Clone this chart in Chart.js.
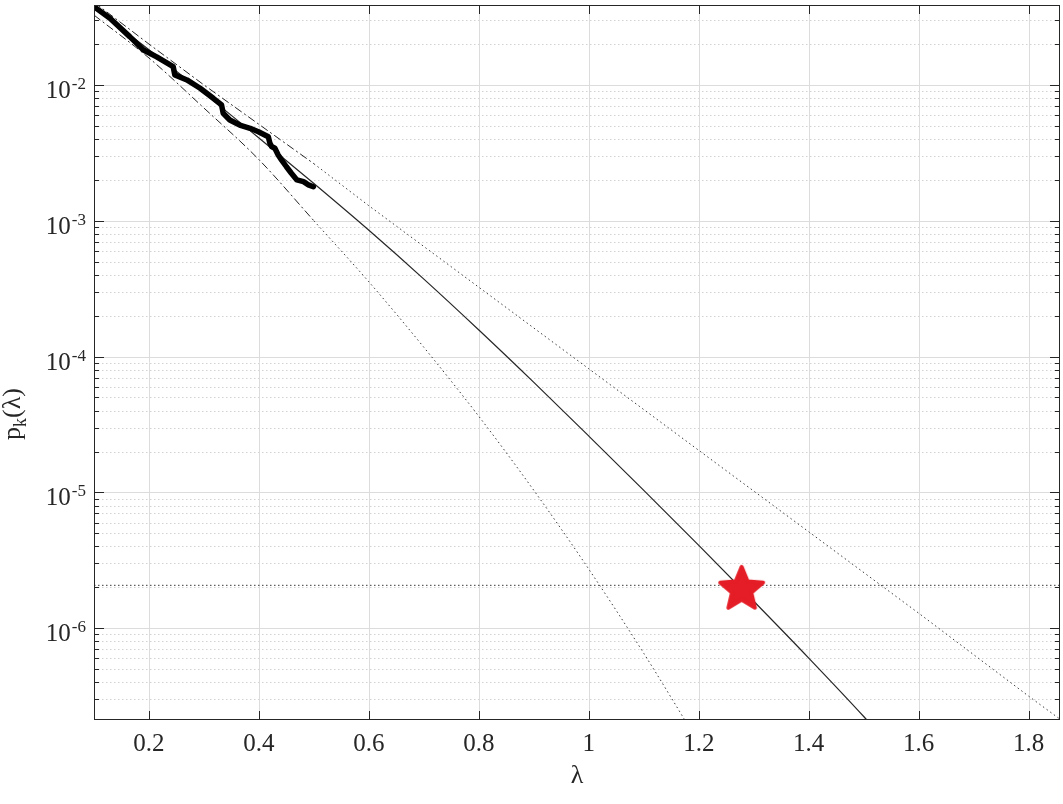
<!DOCTYPE html>
<html>
<head>
<meta charset="utf-8">
<style>
  html, body { margin: 0; padding: 0; background: #fff; }
  #wrap { width: 1063px; height: 804px; }
</style>
<script src="https://cdn.jsdelivr.net/npm/chart.js@4.4.0/dist/chart.umd.js"></script>
</head>
<body>
<div id="wrap"><canvas id="pk-chart" width="1063" height="804"></canvas></div>
<script>
// Tail probability p_k(lambda) on a log axis, MATLAB-style figure

// Axis ranges and ticks
const xMin = 0.1;
const xMax = 1.857;
const yMin = 2.11e-7;
const yMax = 0.0388;
const xTickValues = [0.2, 0.4, 0.6, 0.8, 1.0, 1.2, 1.4, 1.6, 1.8];
const xTickLabels = ['0.2', '0.4', '0.6', '0.8', '1', '1.2', '1.4', '1.6', '1.8'];
const yTickValues = [1e-6, 1e-5, 1e-4, 1e-3, 1e-2];
const yTickExponents = ['-6', '-5', '-4', '-3', '-2'];

// Empirical curve (thick black)
const empiricalX = [0.100, 0.129, 0.165, 0.184, 0.190, 0.214, 0.244, 0.247, 0.269, 0.293,
                    0.317, 0.332, 0.335, 0.347, 0.365, 0.384, 0.399, 0.417, 0.420, 0.423,
                    0.429, 0.435, 0.441, 0.450, 0.459, 0.469, 0.481, 0.490, 0.499];
const empiricalP = [0.0377, 0.0310, 0.0227, 0.0191, 0.0181, 0.0161, 0.01365, 0.01186, 0.01089, 0.00946,
                    0.00798, 0.00713, 0.00619, 0.00552, 0.00507, 0.00480, 0.00453, 0.00416, 0.00372, 0.00352,
                    0.00342, 0.00305, 0.00281, 0.00250, 0.00224, 0.00200, 0.00194, 0.00184, 0.00178];

// Fitted tail (thin solid)
const fitX = [0.1, 0.2, 0.3, 0.4, 0.5, 0.6, 0.7, 0.8, 0.9, 1.0, 1.1, 1.2, 1.3, 1.4, 1.5, 1.52];
const fitP = [0.0372, 0.0182, 0.00871, 0.00407, 0.00188, 8.51e-4, 3.72e-4, 1.57e-4, 6.46e-5,
              2.60e-5, 1.035e-5, 4.07e-6, 1.58e-6, 6.03e-7, 2.24e-7, 1.82e-7];

// Upper bound: dash-dot over the data, dotted beyond
const upperDashX = [0.1, 0.2, 0.3, 0.4, 0.5];
const upperDashP = [0.0407, 0.0200, 0.0100, 0.00513, 0.00263];
const upperDotX = [0.5, 0.6, 0.8, 1.0, 1.2, 1.4, 1.6, 1.8, 1.857];
const upperDotP = [0.00263, 0.00129, 3.24e-4, 8.13e-5, 2.04e-5, 5.13e-6, 1.29e-6, 3.16e-7, 2.14e-7];

// Lower bound: dash-dot over the data, dotted beyond
const lowerDashX = [0.1, 0.2, 0.3, 0.4, 0.5];
const lowerDashP = [0.0327, 0.0158, 0.00676, 0.00282, 0.00100];
const lowerDotX = [0.5, 0.6, 0.7, 0.8, 0.9, 1.0, 1.1, 1.2];
const lowerDotP = [0.00100, 3.55e-4, 1.17e-4, 3.63e-5, 1.035e-5, 2.72e-6, 6.53e-7, 1.43e-7];

// Target level and the marked point
const thresholdX = [0.1, 1.857];
const thresholdP = [2.07e-6, 2.07e-6];
const starX = [1.278];
const starP = [2.0e-6];

const FONT = '"Liberation Serif", "Times New Roman", serif';
const AXIS_COLOR = '#262626';

function pts(xs, ys) {
    return xs.map((x, i) => ({ x: x, y: ys[i] }));
}

// Filled red star used as the point marker
function makeStar(r, color) {
    const size = Math.ceil(2 * r + 10);
    const c = document.createElement('canvas');
    c.width = size;
    c.height = size;
    const g = c.getContext('2d');
    g.translate(size / 2, size / 2 + r * 0.095);
    g.beginPath();
    for (let i = 0; i < 10; i++) {
        const a = -Math.PI / 2 + i * Math.PI / 5;
        const rad = i % 2 ? r * 0.45 : r;
        g.lineTo(Math.cos(a) * rad, Math.sin(a) * rad);
    }
    g.closePath();
    g.fillStyle = color;
    g.strokeStyle = color;
    g.lineWidth = 4;
    g.lineJoin = 'round';
    g.fill();
    g.stroke();
    return c;
}

function noPadding(scale) {
    scale.paddingLeft = 0;
    scale.paddingRight = 0;
    scale.paddingTop = 0;
    scale.paddingBottom = 0;
}

// Grid, box, inward ticks and TeX-like labels
const matlabAxes = {
    id: 'matlabAxes',
    beforeDatasetsDraw(chart) {
        const { ctx, chartArea: a, scales: { x, y } } = chart;
        ctx.save();
        ctx.lineWidth = 1;
        // minor y grid
        ctx.strokeStyle = '#d2d2d2';
        ctx.setLineDash([1.5, 2.5]);
        yTickValues.concat([1e-7, 1e-1]).forEach(dec => {
            for (let m = 2; m <= 9; m++) {
                const v = dec * m;
                if (v <= yMin || v >= yMax) continue;
                const py = Math.round(y.getPixelForValue(v)) + 0.5;
                ctx.beginPath();
                ctx.moveTo(a.left, py);
                ctx.lineTo(a.right, py);
                ctx.stroke();
            }
        });
        // major grid
        ctx.setLineDash([]);
        ctx.strokeStyle = '#dcdcdc';
        yTickValues.forEach(v => {
            const py = Math.round(y.getPixelForValue(v)) + 0.5;
            ctx.beginPath();
            ctx.moveTo(a.left, py);
            ctx.lineTo(a.right, py);
            ctx.stroke();
        });
        xTickValues.forEach(v => {
            const px = Math.round(x.getPixelForValue(v)) + 0.5;
            ctx.beginPath();
            ctx.moveTo(px, a.top);
            ctx.lineTo(px, a.bottom);
            ctx.stroke();
        });
        ctx.restore();
    },
    afterDatasetsDraw(chart) {
        const { ctx, chartArea: a, scales: { x, y } } = chart;
        ctx.save();
        ctx.strokeStyle = AXIS_COLOR;
        ctx.lineWidth = 1;
        ctx.setLineDash([]);
        ctx.strokeRect(a.left + 0.5, a.top + 0.5, a.right - a.left - 1, a.bottom - a.top - 1);

        ctx.beginPath();
        xTickValues.forEach(v => {
            const px = Math.round(x.getPixelForValue(v)) + 0.5;
            ctx.moveTo(px, a.bottom);
            ctx.lineTo(px, a.bottom - 9);
            ctx.moveTo(px, a.top);
            ctx.lineTo(px, a.top + 9);
        });
        yTickValues.concat([1e-7, 1e-1]).forEach(dec => {
            for (let m = 1; m <= 9; m++) {
                const v = dec * m;
                if (v <= yMin || v >= yMax) continue;
                const len = m === 1 ? 10 : 5;
                const py = Math.round(y.getPixelForValue(v)) + 0.5;
                ctx.moveTo(a.left, py);
                ctx.lineTo(a.left + len, py);
                ctx.moveTo(a.right, py);
                ctx.lineTo(a.right - len, py);
            }
        });
        ctx.stroke();

        // y tick labels 10^n
        ctx.fillStyle = AXIS_COLOR;
        ctx.textBaseline = 'alphabetic';
        yTickValues.forEach((v, i) => {
            const py = y.getPixelForValue(v);
            ctx.font = '17px ' + FONT;
            const supW = ctx.measureText(yTickExponents[i]).width;
            const supLeft = 86 - supW;
            ctx.textAlign = 'left';
            ctx.fillText(yTickExponents[i], supLeft, py + 4);
            ctx.font = '25px ' + FONT;
            ctx.textAlign = 'right';
            ctx.fillText('10', supLeft - 1, py + 13);
        });

        // x title
        ctx.font = '26px ' + FONT;
        ctx.textAlign = 'center';
        ctx.textBaseline = 'middle';
        ctx.fillText('\u03bb', (a.left + a.right) / 2, 776);

        // y title p_k(lambda)
        ctx.translate(20, 414);
        ctx.rotate(-Math.PI / 2);
        ctx.textAlign = 'left';
        ctx.textBaseline = 'alphabetic';
        ctx.font = '26px ' + FONT;
        const wP = ctx.measureText('p').width;
        const wRest = ctx.measureText('(\u03bb)').width;
        ctx.font = '18px ' + FONT;
        const wK = ctx.measureText('k').width;
        let tx = -(wP + wK + wRest) / 2;
        ctx.font = '26px ' + FONT;
        ctx.fillText('p', tx, 0);
        tx += wP;
        ctx.font = '18px ' + FONT;
        ctx.fillText('k', tx, 6);
        tx += wK;
        ctx.font = '26px ' + FONT;
        ctx.fillText('(\u03bb)', tx, 0);
        ctx.restore();
    }
};

const starMarker = makeStar(22.5, '#e41d26');

const ctx = document.getElementById('pk-chart');
new Chart(ctx.getContext('2d'), {
    type: 'line',
    data: {
        datasets: [
            {
                label: 'marked',
                data: pts(starX, starP),
                showLine: false,
                pointStyle: starMarker,
                pointRadius: 24,
                clip: false
            },
            {
                label: 'empirical',
                data: pts(empiricalX, empiricalP),
                borderColor: '#000000',
                borderWidth: 5.5,
                borderJoinStyle: 'round',
                borderCapStyle: 'round',
                pointRadius: 0
            },
            {
                label: 'fit',
                data: pts(fitX, fitP),
                borderColor: AXIS_COLOR,
                borderWidth: 1.2,
                cubicInterpolationMode: 'monotone',
                pointRadius: 0
            },
            {
                label: 'upper',
                data: pts(upperDashX, upperDashP),
                borderColor: AXIS_COLOR,
                borderWidth: 1,
                borderDash: [8, 3, 2, 3],
                pointRadius: 0
            },
            {
                label: 'upper ext',
                data: pts(upperDotX, upperDotP),
                borderColor: '#3a3a3a',
                borderWidth: 1,
                borderDash: [1.5, 3],
                pointRadius: 0
            },
            {
                label: 'lower',
                data: pts(lowerDashX, lowerDashP),
                borderColor: AXIS_COLOR,
                borderWidth: 1,
                borderDash: [8, 3, 2, 3],
                cubicInterpolationMode: 'monotone',
                pointRadius: 0
            },
            {
                label: 'lower ext',
                data: pts(lowerDotX, lowerDotP),
                borderColor: '#3a3a3a',
                borderWidth: 1,
                borderDash: [1.5, 3],
                cubicInterpolationMode: 'monotone',
                pointRadius: 0
            },
            {
                label: 'threshold',
                data: pts(thresholdX, thresholdP),
                borderColor: '#3a3a3a',
                borderWidth: 1,
                borderDash: [1.5, 2.5],
                pointRadius: 0
            }
        ]
    },
    options: {
        responsive: false,
        animation: false,
        layout: {
            autoPadding: false,
            padding: { top: 5, right: 3, left: 0, bottom: 0 }
        },
        plugins: {
            legend: { display: false },
            title: { display: false },
            tooltip: { enabled: false }
        },
        elements: {
            line: { tension: 0 }
        },
        scales: {
            x: {
                type: 'linear',
                min: xMin,
                max: xMax,
                grid: { display: false, drawTicks: false },
                border: { display: false },
                afterBuildTicks: function(scale) {
                    scale.ticks = xTickValues.map(v => ({ value: v }));
                },
                afterFit: function(scale) {
                    scale.height = 84;
                    noPadding(scale);
                },
                ticks: {
                    autoSkip: false,
                    maxRotation: 0,
                    padding: 9,
                    color: AXIS_COLOR,
                    font: { family: FONT, size: 25 },
                    callback: function(value, index) {
                        return xTickLabels[index];
                    }
                }
            },
            y: {
                type: 'logarithmic',
                min: yMin,
                max: yMax,
                grid: { display: false, drawTicks: false },
                border: { display: false },
                ticks: { display: false },
                afterFit: function(scale) {
                    scale.width = 94;
                    noPadding(scale);
                }
            }
        }
    },
    plugins: [matlabAxes]
});
</script>
</body>
</html>
